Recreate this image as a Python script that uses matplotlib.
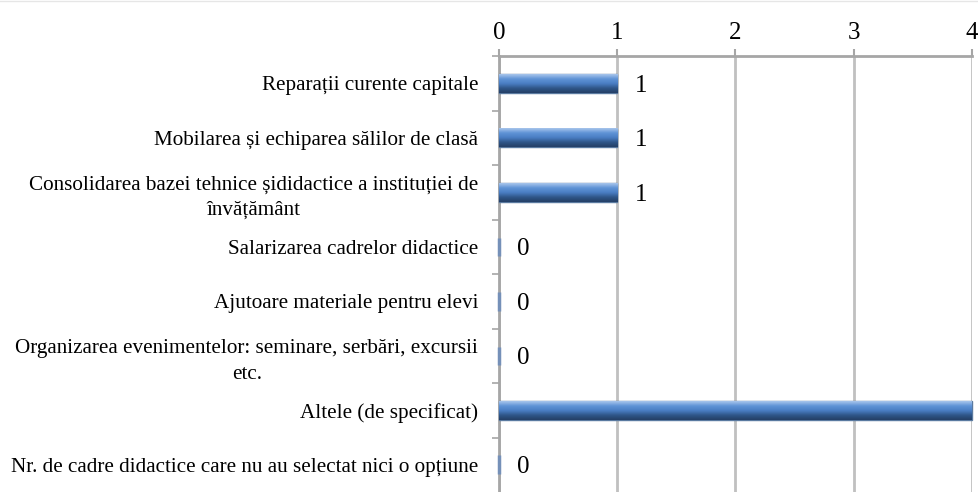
import matplotlib.pyplot as plt
import numpy as np
from matplotlib.colors import LinearSegmentedColormap

# Categories (top to bottom) and their counts
categories = [
    "Reparații curente capitale",
    "Mobilarea și echiparea sălilor de clasă",
    "Consolidarea bazei tehnice șididactice a instituției de\nînvățământ",
    "Salarizarea cadrelor didactice",
    "Ajutoare materiale pentru elevi",
    "Organizarea evenimentelor: seminare, serbări, excursii\netc.",
    "Altele (de specificat)",
    "Nr. de cadre didactice care nu au selectat nici o opțiune",
]
values = [1, 1, 1, 0, 0, 0, 4, 0]
x_ticks = [0, 1, 2, 3, 4]

plt.rcParams['font.family'] = ['Liberation Serif', 'DejaVu Serif']

fig = plt.figure(figsize=(9.79, 4.92), dpi=100)
ax = fig.add_axes([0.5097, 0.0, 0.4831, 0.886])

y_pos = list(range(len(categories)))
bars = ax.barh(y_pos, values, height=0.34, color='#4f81bd', edgecolor='#5a7aa0',
               linewidth=1.0, zorder=3, clip_on=False)

# Vertical gradient on each bar, like the original 3-D style bars
grad = LinearSegmentedColormap.from_list(
    'bar', ['#a9c6ec', '#5f93d6', '#4a7ec4', '#2f5688', '#243f66'])
g = np.linspace(0, 1, 64).reshape(-1, 1)
for b in bars:
    x0, y0 = b.get_x(), b.get_y()
    w, h = b.get_width(), b.get_height()
    if w > 0:
        # y axis is inverted, so the top of the bar is y0
        ax.imshow(g, cmap=grad, aspect='auto', extent=(x0, x0 + w, y0 + h, y0),
                  zorder=3.5, interpolation='bicubic')
    else:
        # zero bars show up as a thin sliver
        b.set_edgecolor('#7590b8')
        b.set_linewidth(2.5)

# Value labels (the one at the edge is cut off in the original)
for y, v in zip(y_pos, values):
    if v < x_ticks[-1]:
        ax.annotate(str(v), (v, y), xytext=(13, 0), textcoords='offset points',
                    va='center_baseline', ha='left', fontsize=18)

ax.set_xlim(0, 4)
ax.set_ylim(len(categories) - 0.5, -0.5)
ax.set_xticks(x_ticks)
ax.xaxis.tick_top()
ax.tick_params(axis='x', labelsize=18, length=5, width=1.5, color='#a6a6a6',
               pad=4, direction='out')
ax.grid(axis='x', color='#c0c0c0', linewidth=2, zorder=0)

ax.set_yticks(y_pos)
ax.set_yticklabels(categories, fontsize=15.2, multialignment='center',
                   linespacing=1.45)
ax.tick_params(axis='y', length=0, pad=15)
ax.set_yticks([y + 0.5 for y in y_pos[:-1]] + [-0.5], minor=True)
ax.tick_params(axis='y', which='minor', length=5, width=1.2, color='#a6a6a6')

for side in ['right', 'bottom']:
    ax.spines[side].set_visible(False)
for side in ['top', 'left']:
    ax.spines[side].set_color('#a6a6a6')
    ax.spines[side].set_linewidth(2)

# faint border line at the very top
fig.add_artist(plt.Line2D([0, 1], [0.998, 0.998], color='#e6e6e6', linewidth=1))

fig.savefig('out.png', dpi=100)
